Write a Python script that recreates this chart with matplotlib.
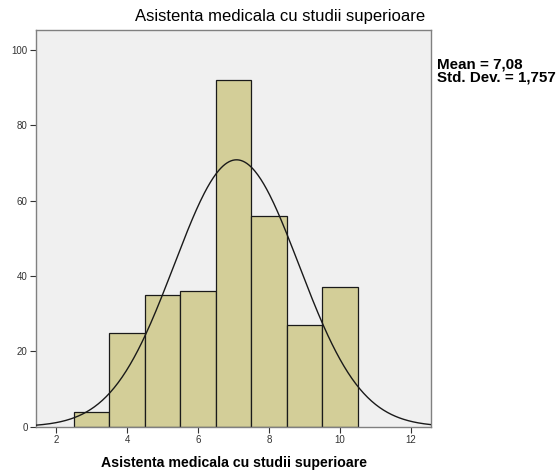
import numpy as np
import matplotlib
matplotlib.use("Agg")
import matplotlib.pyplot as plt

plt.rcParams['font.family'] = ['Liberation Sans', 'DejaVu Sans']

bin_centers = [3, 4, 5, 6, 7, 8, 9, 10]
counts = [4, 25, 35, 36, 92, 56, 27, 37]
mean = 7.08
std = 1.757
title = "Asistenta medicala cu studii superioare"
xlabel = "Asistenta medicala cu studii superioare"
xticks = [2, 4, 6, 8, 10, 12]
yticks = [0, 20, 40, 60, 80, 100]

fig = plt.figure(figsize=(5.6, 4.73), dpi=100)
ax = fig.add_axes([0.0643, 0.0979, 0.7054, 0.8387])
ax.set_facecolor('#F0F0F0')

ax.bar(bin_centers, counts, width=1.0, color='#D3CE98', edgecolor='#1a1a1a', linewidth=0.9, zorder=2)

n = sum(counts)
xs = np.linspace(1.43, 12.56, 400)
ys = n * 1.0 / (std * np.sqrt(2 * np.pi)) * np.exp(-0.5 * ((xs - mean) / std) ** 2)
ax.plot(xs, ys, color='#1a1a1a', linewidth=1.0, zorder=3)

ax.set_xlim(1.43, 12.56)
ax.set_ylim(0, 105.3)
ax.set_xticks(xticks)
ax.set_yticks(yticks)
ax.tick_params(axis='both', labelsize=7, colors='#333333', length=4, width=0.8, pad=2)
for s in ax.spines.values():
    s.set_color('#808080')
    s.set_linewidth(1.0)

fig.text(0.5, 0.965, title, ha='center', va='center', fontsize=12)
ax.set_xlabel(xlabel, fontsize=10.2, fontweight='bold', labelpad=8)

fig.text(0.781, 0.850, "Mean = 7,08\nStd. Dev. = 1,757", ha='left', va='center',
         fontsize=10.9, fontweight='bold', linespacing=0.9)

fig.savefig("out.png", dpi=100)
